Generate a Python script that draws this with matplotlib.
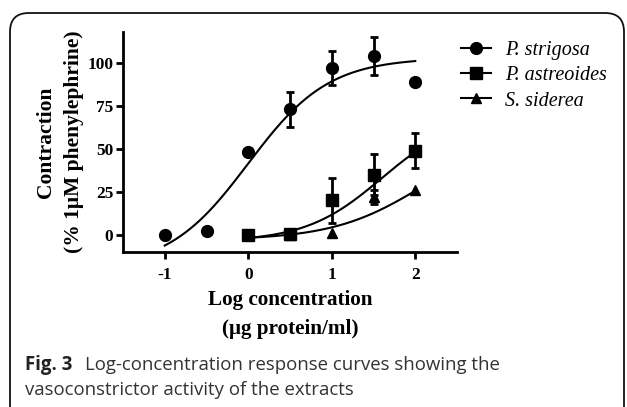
import numpy as np
import matplotlib
matplotlib.use("Agg")
import matplotlib.pyplot as plt
from matplotlib.patches import FancyBboxPatch

# ---- data ----
series_names = ["P. strigosa", "P. astreoides", "S. siderea"]
x_strigosa = [-1, -0.5, 0, 0.5, 1, 1.5, 2]
y_strigosa = [0, 2, 48, 73, 97, 104, 89]
e_strigosa = [0, 0, 0, 10, 10, 11, 0]

x_astreoides = [0, 0.5, 1, 1.5, 2]
y_astreoides = [0, 0.5, 20, 35, 49]
e_astreoides = [0, 0, 13, 12, 10]

x_siderea = [0, 0.5, 1, 1.5, 2]
y_siderea = [0, 0, 1, 22, 26]
e_siderea = [0, 0, 0, 4, 0]

# sigmoid fit parameters (bottom, top, logEC50, hill) and fitted ranges
fit_strigosa = (-20, 103, 0.0, 0.9)
fit_astreoides = (-4, 70, 1.6, 0.95)
fit_siderea = (-3, 60, 2.1, 0.8)
range_strigosa = (-1, 2)
range_astreoides = (0, 2)
range_siderea = (0, 2)

x_ticks = [-1, 0, 1, 2]
y_ticks = [0, 25, 50, 75, 100]


def sigmoid(x, p):
    b, t, ec, h = p
    return b + (t - b) / (1 + 10 ** ((ec - x) * h))


serif = ["Liberation Serif", "DejaVu Serif"]
plt.rcParams["font.family"] = serif

fig = plt.figure(figsize=(6.27, 4.07), dpi=100)

# rounded border box
box = FancyBboxPatch((10 / 627, -0.05), 614 / 627, (407 - 13) / 407 + 0.05,
                     boxstyle="round,pad=0,rounding_size=0.03",
                     transform=fig.transFigure, fill=False,
                     edgecolor="#111111", linewidth=1.3, mutation_aspect=627 / 407)
fig.patches.append(box)

ax = fig.add_axes([123 / 627, 1 - 252 / 407, (457 - 123) / 627, (252 - 32) / 407])

lw = 1.5
markers = ["o", "s", "^"]
msizes = [8.5, 8, 7.5]
datasets = [
    (x_strigosa, y_strigosa, e_strigosa, fit_strigosa, range_strigosa),
    (x_astreoides, y_astreoides, e_astreoides, fit_astreoides, range_astreoides),
    (x_siderea, y_siderea, e_siderea, fit_siderea, range_siderea),
]
handles = []
for (xs, ys, es, fp, rng), m, ms, name in zip(datasets, markers, msizes, series_names):
    xx = np.linspace(rng[0], rng[1], 200)
    ax.plot(xx, sigmoid(xx, fp), color="black", lw=lw, zorder=2)
    xs_e = [x for x, e in zip(xs, es) if e > 0]
    ys_e = [y for y, e in zip(ys, es) if e > 0]
    ee = [e for e in es if e > 0]
    ax.errorbar(xs_e, ys_e, yerr=ee, fmt="none", ecolor="black",
                elinewidth=2, capsize=3.2, capthick=2, zorder=3)
    ax.plot(xs, ys, linestyle="none", marker=m, markersize=ms,
            color="black", zorder=4)
    h, = ax.plot([], [], color="black", lw=lw, marker=m, markersize=ms)
    handles.append(h)

ax.set_xlim(-1.5, 2.5)
ax.set_ylim(-10, 118)
ax.set_xticks(x_ticks)
ax.set_xticklabels([str(t) for t in x_ticks])
ax.set_yticks(y_ticks)
ax.set_yticklabels([str(t) for t in y_ticks])
for s in ["top", "right"]:
    ax.spines[s].set_visible(False)
for s in ["left", "bottom"]:
    ax.spines[s].set_linewidth(2)
ax.tick_params(direction="out", length=5, width=2, labelsize=12.5, pad=2)
for lab in ax.get_xticklabels() + ax.get_yticklabels():
    lab.set_fontweight("bold")
ax.tick_params(axis="x", pad=6)

ax.set_xlabel("Log concentration\n(\u03bcg protein/ml)", fontsize=15.2,
              fontweight="bold", labelpad=5, linespacing=1.6)
ax.set_ylabel("Contraction\n(% 1\u03bcM phenylephrine)", fontsize=15.5,
              fontweight="bold", labelpad=2, linespacing=1.6)

leg = fig.legend(handles, series_names, loc="upper left",
                 bbox_to_anchor=(443 / 627, 1 - 23 / 407), frameon=False,
                 prop={"family": serif, "style": "italic", "size": 14.5},
                 handlelength=1.5, handletextpad=0.7, labelspacing=0.3)

# caption
sans = ["Open Sans", "DejaVu Sans"]
fs_cap = 13.4
fig.text(25 / 627, 1 - 370 / 407, "Fig. 3", fontsize=fs_cap, fontweight="bold",
         family=sans, va="baseline", color="#222222")
fig.text(85 / 627, 1 - 370 / 407,
         "Log-concentration response curves showing the",
         fontsize=fs_cap, family=sans, va="baseline", color="#333333")
fig.text(25 / 627, 1 - 395 / 407,
         "vasoconstrictor activity of the extracts",
         fontsize=fs_cap, family=sans, va="baseline", color="#333333")

fig.savefig("out.png", dpi=100)
